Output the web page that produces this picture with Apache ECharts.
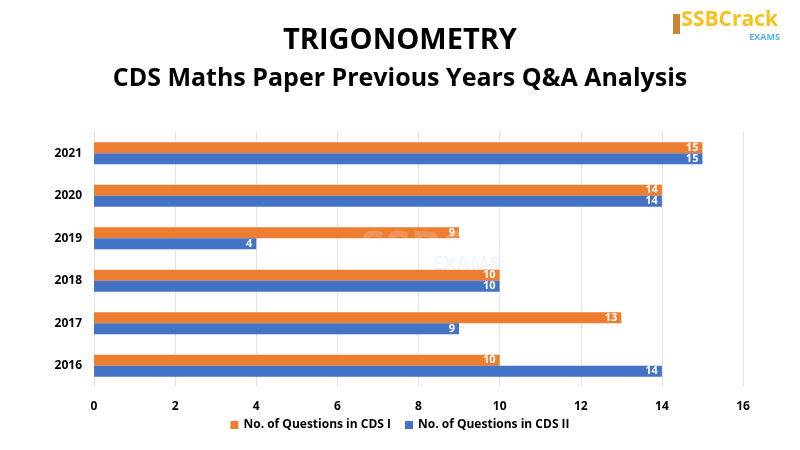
<!DOCTYPE html>
<html><head><meta charset="utf-8">
<script src="https://cdn.jsdelivr.net/npm/echarts@6/dist/echarts.min.js"></script>
<style>html,body{margin:0;padding:0;background:#fff}#c{width:800px;height:450px}</style>
</head><body><div id="c"></div>
<script>
const years = ['2016','2017','2018','2019','2020','2021'];
const cds1 = [10, 13, 10, 9, 14, 15];
const cds2 = [14, 9, 10, 4, 14, 15];
const xTicks = [0,2,4,6,8,10,12,14,16];
const seriesNames = ['No. of Questions in CDS I','No. of Questions in CDS II'];
const FONT = "'Open Sans', sans-serif";
const chart = echarts.init(document.getElementById('c'));
chart.setOption({
  animation:false,
  title:[
    {text:'TRIGONOMETRY', left:'center', top:21, textStyle:{fontFamily:FONT,fontWeight:'bold',fontSize:29,color:'#000'}},
    {text:'CDS Maths Paper Previous Years Q&A Analysis', left:'center', top:61, textStyle:{fontFamily:FONT,fontWeight:'bold',fontSize:25,color:'#000'}}
  ],
  graphic:[
    {type:'text', right:22, top:10, style:{text:'SSBCrack', fill:'#F7C21B', font:"bold 21px 'Open Sans'"}},
    {type:'text', right:20, top:33, style:{text:'EXAMS', fill:'#4FB0EE', font:"bold 9px 'Open Sans'"}},
    {type:'rect', left:673, top:14, shape:{width:7,height:20}, style:{fill:'#C8872E'}},
    {type:'text', left:360, top:228, z:100, style:{text:'SSBCrack', fill:'rgba(255,255,255,0.18)', font:"bold 46px 'Open Sans'"}},
    {type:'text', left:432, top:254, z:100, style:{text:'EXAMS', fill:'rgba(120,180,240,0.12)', font:"bold 20px 'Open Sans'"}}
  ],
  legend:{data:seriesNames, bottom:14, left:'center', itemWidth:8, itemHeight:8, icon:'rect', itemGap:14,
    textStyle:{fontFamily:FONT, fontWeight:'bold', fontSize:12, color:'#000'}},
  grid:{left:94, right:57, top:132, bottom:63, containLabel:false},
  xAxis:{type:'value', min:0, max:16, interval:2,
    axisLine:{show:false}, axisTick:{show:false},
    splitLine:{lineStyle:{color:'#e3e3e3'}},
    axisLabel:{margin:14, fontFamily:FONT, fontWeight:'bold', fontSize:12, color:'#000'}},
  yAxis:{type:'category', data:years,
    axisLine:{show:false}, axisTick:{show:false},
    axisLabel:{margin:12, fontFamily:FONT, fontWeight:'bold', fontSize:12, color:'#000'}},
  series:[
    {name:seriesNames[0], type:'bar', data:cds1, barWidth:11, barGap:'0%', itemStyle:{color:'#ED7D31'},
      label:{show:true, position:'insideRight', distance:4, color:'#fff', fontFamily:FONT, fontWeight:'bold', fontSize:11}},
    {name:seriesNames[1], type:'bar', data:cds2, barWidth:11, barGap:'0%', itemStyle:{color:'#4472C4'},
      label:{show:true, position:'insideRight', distance:4, color:'#fff', fontFamily:FONT, fontWeight:'bold', fontSize:11}}
  ]
});
</script></body></html>
